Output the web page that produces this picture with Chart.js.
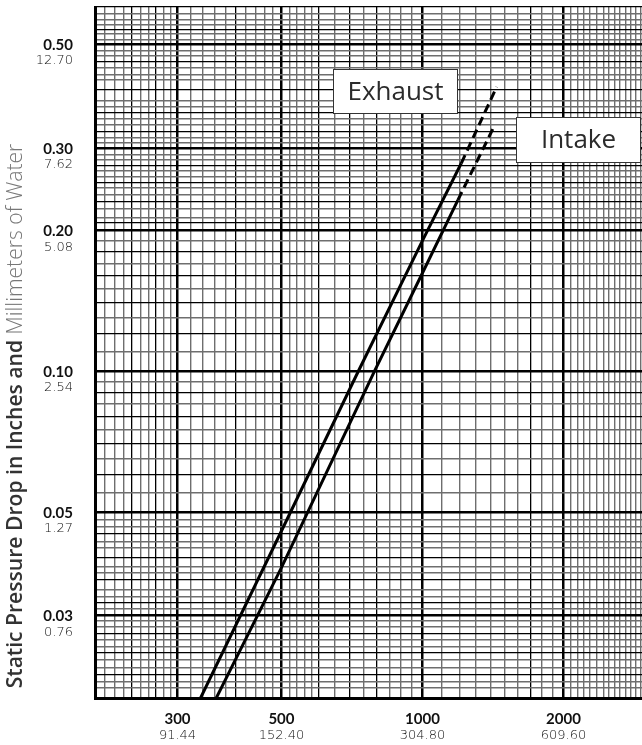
<!DOCTYPE html>
<html>
<head>
<meta charset="utf-8">
<script src="https://cdn.jsdelivr.net/npm/chart.js@4.4.1/dist/chart.umd.min.js"></script>
<style>
html,body{margin:0;padding:0;background:#fff;overflow:hidden;width:642px;height:745px}
#wrap{position:relative;width:646px;height:745px}
</style>
</head>
<body>
<div id="wrap"><canvas id="FirstChart" width="646" height="745"></canvas></div>
<script>
// curves (CFM vs inches of water)
let exhaustFlow=[336,500,730,1000,1210]
let exhaustDrop=[0.02,0.0455,0.1,0.19,0.278]
let exhaustDashFlow=[1210,1440]
let exhaustDashDrop=[0.278,0.405]
let intakeFlow=[363,500,790,1000,1190]
let intakeDrop=[0.02,0.038,0.1,0.162,0.232]
let intakeDashFlow=[1190,1415]
let intakeDashDrop=[0.232,0.33]

// axis labels
let xTickValues=[300,500,1000,2000]
let xTickLabels=['300','500','1000','2000']
let xTickMetric=['91.44','152.40','304.80','609.60']
let yTickValues=[0.5,0.3,0.2,0.1,0.05,0.03]
let yTickLabels=['0.50','0.30','0.20','0.10','0.05','0.03']
let yTickMetric=['12.70','7.62','5.08','2.54','1.27','0.76']

// graph paper lines
let xGridGrey=[210,220,230,250,260,280,290,320,340,360,380,420,440,460,480,520,540,560,580,650,750,850,900,950,
  1100,1200,1300,1400,1500,1600,1800,1900,2070,2140,2210,2280,2360,2440,2500,2570,2640,2710,2780,2850,2920]
let xGridDark=[240,270,400,600,700,800,1700]
let xGridMajor=[300,500,1000,2000]
let yGridGrey=[0.58,0.565,0.551,0.526,0.511,0.485,0.472,0.446,0.431,0.419,0.379,0.367,0.347,0.336,0.316,0.308,
  0.29,0.283,0.268,0.26,0.246,0.238,0.2225,0.213,0.19,0.17,0.15,0.13,0.11,
  0.095,0.085,0.075,0.065,0.055,0.048,0.0465,0.0432,0.0419,0.0382,0.037,0.0341,0.033,0.0311,
  0.0292,0.0284,0.0266,0.0258,0.0242,0.0232,0.0217,0.021]
let yGridDark=[0.6,0.537,0.458,0.4,0.357,0.325,0.275,0.253,0.23,0.208,0.18,0.16,0.14,0.12,0.09,0.08,0.07,0.06,
  0.045,0.04,0.0358,0.032,0.0275,0.025,0.0224]
let yGridMajor=[0.5,0.3,0.2,0.1,0.05,0.03]

function pts(xs,ys){
  return xs.map((v,i)=>({x:v,y:ys[i]}))
}

function gridStyle(v,grey,dark,major){
  if(major.indexOf(v)>=0) return {c:'#000',w:2.5}
  if(dark.indexOf(v)>=0) return {c:'#000',w:1.3}
  return {c:'#6e6e6e',w:1.4}
}

let labelPlugin={
  id:'paperLabels',
  afterDatasetsDraw(chart){
    let c=chart.ctx
    let xs=chart.scales.x
    let ys=chart.scales.y
    let area=chart.chartArea
    c.save()
    // boxes
    function box(txt,vx,vy,w,h){
      let px=Math.round(xs.getPixelForValue(vx))+0.5
      let py=Math.round(ys.getPixelForValue(vy))+0.5
      c.fillStyle='#fff'
      c.fillRect(px,py,w,h)
      c.strokeStyle='#333'
      c.lineWidth=1
      c.strokeRect(px,py,w,h)
      c.fillStyle='#2b2b2b'
      c.font='26px "Open Sans"'
      c.textAlign='center'
      c.textBaseline='middle'
      c.fillText(txt,px+w/2,py+h/2+1)
    }
    box('Exhaust',645,0.442,124,44)
    box('Intake',1580,0.349,124,45)

    // y labels
    c.textAlign='right'
    c.textBaseline='middle'
    yTickValues.forEach((v,i)=>{
      let py=ys.getPixelForValue(v)
      c.fillStyle='#111'
      c.font='bold 15px Lato'
      c.fillText(yTickLabels[i],area.left-22,py+1)
      c.fillStyle='#111'
      c.font='200 13px "DejaVu Sans"'
      c.fillText(yTickMetric[i],area.left-22,py+17)
    })
    // x labels
    c.textAlign='center'
    xTickValues.forEach((v,i)=>{
      let px=xs.getPixelForValue(v)
      c.fillStyle='#111'
      c.font='bold 15px Lato'
      c.fillText(xTickLabels[i],px,area.bottom+21)
      c.fillStyle='#111'
      c.font='200 13px "DejaVu Sans"'
      c.fillText(xTickMetric[i],px,area.bottom+38)
    })
    // y title in two weights, stretched to the same run as the original
    let t1='Static Pressure Drop in Inches and '
    let t2='Millimeters of Water'
    c.translate(16,416)
    c.rotate(-Math.PI/2)
    c.font='600 20px "Open Sans"'
    let w1=c.measureText(t1).width
    c.font='300 20px "Open Sans"'
    let w2=c.measureText(t2).width
    let size=20*545/(w1+w2)
    c.font='600 '+size+'px "Open Sans"'
    w1=c.measureText(t1).width
    c.font='300 '+size+'px "Open Sans"'
    w2=c.measureText(t2).width
    let start=-(w1+w2)/2
    c.textAlign='left'
    c.textBaseline='middle'
    c.fillStyle='#333'
    c.font='600 '+size+'px "Open Sans"'
    c.fillText(t1,start,0)
    c.fillStyle='#777'
    c.font='300 '+size+'px "Open Sans"'
    c.fillText(t2,start+w1,0)
    c.restore()
  }
}

let ctx=document.getElementById('FirstChart').getContext('2d')
let myChart=new Chart(ctx,{
  type:'line',
  data:{
    datasets:[
      {label:'Exhaust',data:pts(exhaustFlow,exhaustDrop),borderColor:'#000',borderWidth:3},
      {label:'Exhaust (extrapolated)',data:pts(exhaustDashFlow,exhaustDashDrop),borderColor:'#000',borderWidth:3,borderDash:[9,5]},
      {label:'Intake',data:pts(intakeFlow,intakeDrop),borderColor:'#000',borderWidth:3},
      {label:'Intake (extrapolated)',data:pts(intakeDashFlow,intakeDashDrop),borderColor:'#000',borderWidth:3,borderDash:[9,5]}
    ]
  },
  options:{
    responsive:false,
    animation:false,
    events:[],
    layout:{padding:{top:7,right:0,left:0,bottom:0}},
    elements:{point:{radius:0},line:{tension:0,borderCapStyle:'butt'}},
    plugins:{legend:{display:false},tooltip:{enabled:false}},
    scales:{
      x:{
        type:'logarithmic',min:200,max:3000,
        afterBuildTicks:function(s){s.ticks=xGridGrey.concat(xGridDark,xGridMajor).map(v=>({value:v}))},
        afterFit:function(s){s.height=47},
        ticks:{display:false,autoSkip:false},
        grid:{
          drawTicks:false,
          color:c=>c.tick?gridStyle(c.tick.value,xGridGrey,xGridDark,xGridMajor).c:'#000',
          lineWidth:c=>c.tick?gridStyle(c.tick.value,xGridGrey,xGridDark,xGridMajor).w:1
        },
        border:{display:true,color:'#000',width:3}
      },
      y:{
        type:'logarithmic',min:0.02,max:0.6,
        afterBuildTicks:function(s){s.ticks=yGridGrey.concat(yGridDark,yGridMajor).map(v=>({value:v}))},
        afterFit:function(s){s.width=95},
        ticks:{display:false,autoSkip:false},
        grid:{
          drawTicks:false,
          color:c=>c.tick?gridStyle(c.tick.value,yGridGrey,yGridDark,yGridMajor).c:'#000',
          lineWidth:c=>c.tick?gridStyle(c.tick.value,yGridGrey,yGridDark,yGridMajor).w:1
        },
        border:{display:true,color:'#000',width:3}
      }
    }
  },
  plugins:[labelPlugin]
})
</script>
</body>
</html>
